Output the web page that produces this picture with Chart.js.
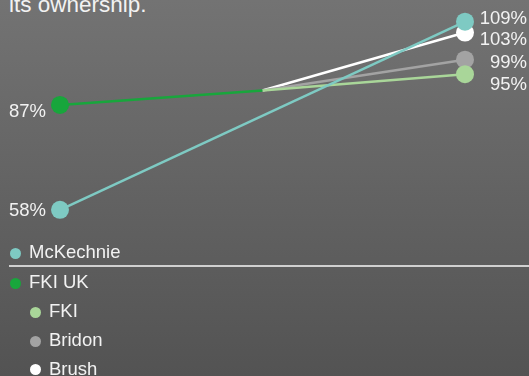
<!DOCTYPE html>
<html>
<head>
<meta charset="utf-8">
<script src="https://cdn.jsdelivr.net/npm/chart.js@4"></script>
<style>
  html, body { margin: 0; padding: 0; }
  body {
    width: 529px; height: 376px; overflow: hidden; position: relative;
    background: linear-gradient(#737373, #535353);
    font-family: "Liberation Sans", Arial, sans-serif; color: #f2f2f2;
  }
  #chartBox { position: absolute; left: 0; top: 0; width: 529px; height: 376px; }
  .intro { position: absolute; left: 9px; top: -6px; font-size: 22.5px; line-height: 22px; white-space: nowrap; }
  .row { position: absolute; height: 20px; line-height: 20px; font-size: 18.5px; white-space: nowrap; }
  .dot { position: absolute; width: 11px; height: 11px; border-radius: 50%; }
  .rule { position: absolute; left: 9px; right: 0; top: 265px; height: 1.5px; background: #d0d0d0; }
</style>
</head>
<body>
<div class="intro">its ownership.</div>
<div id="chartBox"><canvas id="myChart"></canvas></div>
<div id="legend"></div>
<div class="rule"></div>
<script>
//Data.
//NOTE: values are where the dots sit in the reference, not the printed labels.
//The reference draws Brush (labelled 103%) at about 107 and McKechnie (109%) at about 110,
//most likely nudged so the labels don't overlap. Use the label numbers if you want the true data.
let stages = ["before", "middle", "after"];
let seriesNames = ["McKechnie", "FKI UK", "FKI", "Bridon", "Brush"];
let mcKechnie = [58, null, 110];
let fkiUK = [87, 91, null];
let fki = [null, 91, 95.5];
let bridon = [null, 91, 99.5];
let brush = [null, 91, 107];
//Printed labels at the ends of the lines
let startLabels = ["58%", "87%", "", "", ""];
let endLabels = ["109%", "", "95%", "99%", "103%"];

let colors = ["#7ecac3", "#18a63c", "#a9d699", "#a3a3a3", "#ffffff"];
// small vertical nudges for the printed labels (style only)
let startNudge = [1.5, 6.5, 0, 0, 0];
let endNudge = [-2.5, 0, 11, 3.5, 7.5];

function radii(arr) {
  return arr.map((v, i) => (v === null || i === 1) ? 0 : 9);
}

let seriesData = [mcKechnie, fkiUK, fki, bridon, brush];
let datasets = seriesData.map((arr, i) => ({
  label: seriesNames[i],
  data: arr,
  borderColor: colors[i],
  backgroundColor: colors[i],
  borderWidth: 2.5,
  pointRadius: radii(arr),
  pointHoverRadius: radii(arr),
  pointBorderWidth: 0,
  spanGaps: true,
  tension: 0,
  clip: false
}));

//Draws the percentage labels next to the end points
let endLabelPlugin = {
  id: 'endLabels',
  afterDatasetsDraw(chart) {
    let c = chart.ctx;
    c.save();
    c.font = '18.5px "Liberation Sans", Arial, sans-serif';
    c.fillStyle = '#f2f2f2';
    c.textBaseline = 'middle';
    chart.data.datasets.forEach((ds, i) => {
      let pts = chart.getDatasetMeta(i).data;
      if (startLabels[i] && pts[0]) {
        c.textAlign = 'right';
        c.fillText(startLabels[i], pts[0].x - 14, pts[0].y + startNudge[i]);
      }
      if (endLabels[i] && pts[2]) {
        c.textAlign = 'right';
        c.fillText(endLabels[i], chart.width - 2, pts[2].y + endNudge[i]);
      }
    });
    c.restore();
  }
};

let ctx = document.getElementById('myChart').getContext('2d');
let myChart = new Chart(ctx, {
  type: 'line',
  data: { labels: stages, datasets: datasets },
  options: {
    responsive: true,
    maintainAspectRatio: false,
    animation: false,
    layout: { autoPadding: false, padding: { left: 60, right: 64, top: 3.6, bottom: 101 } },
    scales: {
      x: { display: false, offset: false },
      y: { display: false, min: 40, max: 115 }
    },
    plugins: { legend: { display: false }, tooltip: { enabled: false } }
  },
  plugins: [endLabelPlugin]
});

//Custom nested legend
let legendRows = [
  { name: seriesNames[0], color: colors[0], x: 15, y: 252 },
  { name: seriesNames[1], color: colors[1], x: 15, y: 282 },
  { name: seriesNames[2], color: colors[2], x: 35, y: 311 },
  { name: seriesNames[3], color: colors[3], x: 35, y: 340 },
  { name: seriesNames[4], color: colors[4], x: 35, y: 368.5 }
];
let legend = document.getElementById('legend');
legendRows.forEach(r => {
  let d = document.createElement('div');
  d.className = 'dot';
  d.style.left = (r.x - 5.5) + 'px';
  d.style.top = (r.y + 1 - 5.5) + 'px';
  d.style.background = r.color;
  legend.appendChild(d);
  let t = document.createElement('div');
  t.className = 'row';
  t.style.left = (r.x + 14) + 'px';
  t.style.top = (r.y - 10) + 'px';
  t.textContent = r.name;
  legend.appendChild(t);
});
</script>
</body>
</html>
